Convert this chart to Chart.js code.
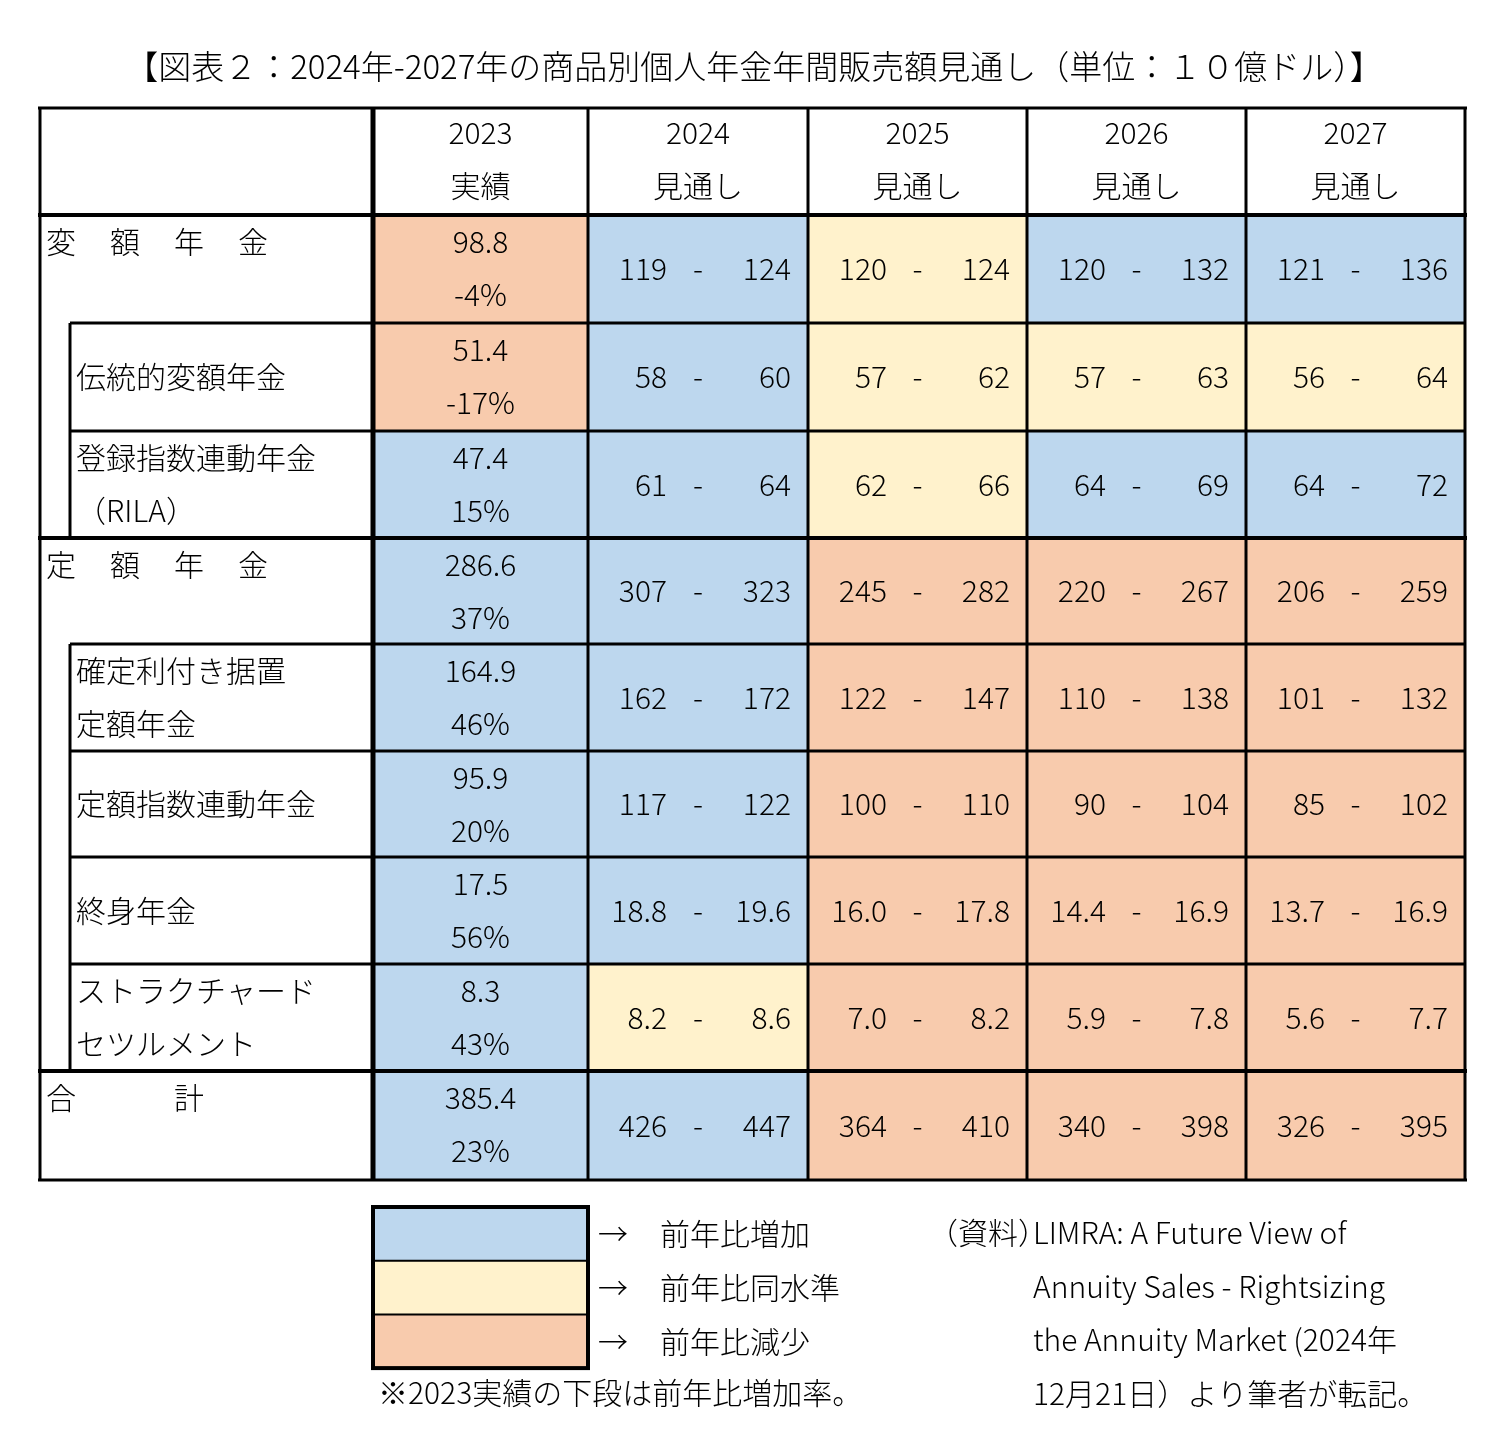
<!DOCTYPE html>
<html><head><meta charset="utf-8">
<script src="https://cdn.jsdelivr.net/npm/chart.js@4/dist/chart.umd.min.js"></script>
<style>html,body{margin:0;padding:0;background:#fff}</style></head>
<body><canvas id="c" width="1508" height="1440"></canvas>
<script>
const title = "【図表２：2024年-2027年の商品別個人年金年間販売額見通し（単位：１０億ドル）】";
const years = ["2023","2024","2025","2026","2027"];
const yearSub = ["実績","見通し","見通し","見通し","見通し"];
const rowLabels = [["変","額","年","金"],["伝統的変額年金"],["登録指数連動年金","（RILA）"],["定","額","年","金"],["確定利付き据置","定額年金"],["定額指数連動年金"],["終身年金"],["ストラクチャード","セツルメント"],["合","","計"]];
const rowIndent = [0,1,1,0,1,1,1,1,0];
const actual2023 = [98.8,51.4,47.4,286.6,164.9,95.9,17.5,8.3,385.4];
const growth2023 = ["-4%","-17%","15%","37%","46%","20%","56%","43%","23%"];
const decimals = [0,0,0,0,0,0,1,1,0];
const lows = [[119,120,120,121],[58,57,57,56],[61,62,64,64],[307,245,220,206],[162,122,110,101],[117,100,90,85],[18.8,16.0,14.4,13.7],[8.2,7.0,5.9,5.6],[426,364,340,326]];
const highs = [[124,124,132,136],[60,62,63,64],[64,66,69,72],[323,282,267,259],[172,147,138,132],[122,110,104,102],[19.6,17.8,16.9,16.9],[8.6,8.2,7.8,7.7],[447,410,398,395]];
const status = [["D","U","S","U","U"],["D","U","S","S","S"],["U","U","S","U","U"],["U","U","D","D","D"],["U","U","D","D","D"],["U","U","D","D","D"],["U","U","D","D","D"],["U","S","D","D","D"],["U","U","D","D","D"]];
const legendLabels = ["前年比増加","前年比同水準","前年比減少"];
const note = "※2023実績の下段は前年比増加率。";
const sourceLines = ["LIMRA: A Future View of","Annuity Sales - Rightsizing","the Annuity Market (2024年","12月21日）より筆者が転記。"];

const COL = {U:"#BDD7EE",S:"#FFF2CC",D:"#F8CBAD"};
const colEdges = [40,373,588,808,1027,1246,1465];
const rowEdges = [108,215,323,431,538,644,751,857,964,1071,1180];
const FONT = '"Noto Sans CJK JP","Noto Sans",sans-serif';

const tablePlugin = {id:"table", afterDraw(chart){
  const c = chart.ctx, xs = chart.scales.x, ys = chart.scales.y;
  const X = v=>xs.getPixelForValue(v), Y = v=>ys.getPixelForValue(v);
  c.save();
  c.fillStyle="#fff"; c.fillRect(0,0,chart.width,chart.height);
  c.fillStyle="#000"; c.textBaseline="middle";
  c.font="300 33px "+FONT; c.textAlign="center";
  c.fillText(title, X(754), Y(66));
  c.font="300 30px "+FONT;
  years.forEach((yr,i)=>{
    const cx=(X(colEdges[i+1])+X(colEdges[i+2]))/2;
    c.fillText(yr,cx,Y(rowEdges[0]+25)); c.fillText(yearSub[i],cx,Y(rowEdges[0]+78));
  });
  for(let r=0;r<rowLabels.length;r++){
    const t=rowEdges[r+1], b=rowEdges[r+2];
    for(let k=0;k<5;k++){
      c.fillStyle=COL[status[r][k]];
      c.fillRect(X(colEdges[k+1]),Y(t),X(colEdges[k+2])-X(colEdges[k+1]),Y(b)-Y(t));
    }
    c.fillStyle="#000";
    const mid=(Y(t)+Y(b))/2;
    const lab=rowLabels[r];
    c.textAlign="left";
    if(rowIndent[r]===0){
      lab.forEach((ch,j)=>c.fillText(ch,X(46+64*j),Y(t+27)));
    } else if(lab.length===1){ c.fillText(lab[0],X(76),mid); }
    else { c.fillText(lab[0],X(76),Y(t+27)); c.fillText(lab[1],X(76),Y(t+80)); }
    c.textAlign="center";
    const cx0=(X(colEdges[1])+X(colEdges[2]))/2;
    c.fillText(actual2023[r].toFixed(1),cx0,Y(t+27));
    c.fillText(growth2023[r],cx0,Y(t+80));
    for(let k=0;k<4;k++){
      const a=colEdges[k+2], e=colEdges[k+3];
      c.textAlign="right"; c.fillText(lows[r][k].toFixed(decimals[r]),X(a+79),mid);
      c.fillText(highs[r][k].toFixed(decimals[r]),X(e-17),mid);
      c.textAlign="center"; c.fillText("-",X((a+e)/2),mid);
    }
  }
  c.strokeStyle="#000";
  const L=(x1,y1,x2,y2,w)=>{c.lineWidth=w;c.beginPath();c.moveTo(X(x1),Y(y1));c.lineTo(X(x2),Y(y2));c.stroke();};
  const top=rowEdges[0], bot=rowEdges[rowEdges.length-1];
  L(40,top,40,bot,3); L(373,top,373,bot,5);
  for(let i=2;i<colEdges.length;i++) L(colEdges[i],top,colEdges[i],bot,3);
  L(70,323,70,538,3); L(70,644,70,1071,3);
  [108,215,538,1071,1180].forEach((y,i)=>L(38,y,1467,y,(i===1||i===2||i===3)?4:3));
  [323,431,644,751,857,964].forEach(y=>L(70,y,1465,y,3));
  const lt=1207, lh=53.7;
  ["U","S","D"].forEach((s,i)=>{
    c.fillStyle=COL[s]; c.fillRect(X(373),Y(lt+lh*i),X(588)-X(373),Y(lt+lh*(i+1))-Y(lt+lh*i));
    c.fillStyle="#000"; c.textAlign="left";
    c.fillText("→",X(598),Y(lt+lh*i+27)); c.fillText(legendLabels[i],X(660),Y(lt+lh*i+27));
  });
  c.lineWidth=2; [1,2].forEach(i=>{c.beginPath();c.moveTo(X(373),Y(lt+lh*i));c.lineTo(X(588),Y(lt+lh*i));c.stroke();});
  c.lineWidth=4; c.strokeRect(X(373),Y(lt),X(588)-X(373),Y(lt+lh*3)-Y(lt));
  c.fillText(note,X(378),Y(1393));
  c.fillText("（資料）",X(928),Y(1233));
  sourceLines.forEach((s,i)=>c.fillText(s,X(1033),Y(1233+53.5*i)));
  c.restore();
}};

new Chart(document.getElementById("c"),{
  type:"scatter", data:{datasets:[{data:[]}]},
  options:{responsive:false,animation:false,devicePixelRatio:1,layout:{padding:0},
    plugins:{legend:{display:false},tooltip:{enabled:false}},
    scales:{x:{type:"linear",min:0,max:1508,display:false},y:{type:"linear",min:0,max:1440,reverse:true,display:false}}},
  plugins:[tablePlugin]
});
</script></body></html>
